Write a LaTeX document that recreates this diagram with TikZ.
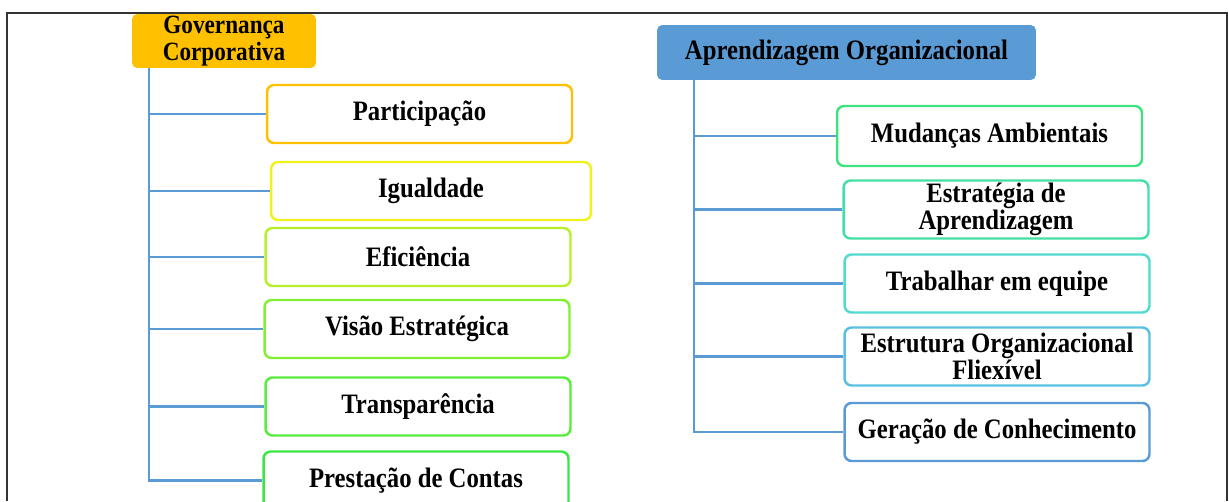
\documentclass[tikz,border=0pt]{standalone}
\usepackage{fontspec}
\setmainfont{Liberation Serif}[FakeStretch=0.88]
\usetikzlibrary{positioning}

\definecolor{gcorange}{RGB}{255,192,0}
\definecolor{aoblue}{RGB}{91,155,213}
\definecolor{cIgual}{RGB}{240,242,30}
\definecolor{cEfic}{RGB}{184,240,40}
\definecolor{cVisao}{RGB}{130,240,50}
\definecolor{cTransp}{RGB}{88,236,60}
\definecolor{cPrest}{RGB}{60,230,70}
\definecolor{cMud}{RGB}{64,226,128}
\definecolor{cEstr}{RGB}{66,224,164}
\definecolor{cTrab}{RGB}{82,218,208}
\definecolor{cEstrut}{RGB}{90,192,224}

\begin{document}
\begin{tikzpicture}
[x=0.02cm, y=-0.02cm, line width=1.4pt,
head/.style={rectangle, rounded corners=3pt, inner sep=0pt, align=center},
item/.style={rectangle, draw, rounded corners=4pt, fill=white, inner sep=0pt,
  minimum width=6.1cm, minimum height=1.16cm, align=center,
  font=\bfseries\fontsize{16}{15}\selectfont},
link/.style={draw=aoblue, line width=1.6pt}]

\useasboundingbox (0,0) rectangle (1229,501);

% moldura
\draw[black!80, line width=1pt] (7,501) -- (7,13) -- (1227,13) -- (1227,501);

% Governanca Corporativa
\node[head, fill=gcorange, minimum width=3.68cm, minimum height=1.08cm,
  font=\bfseries\fontsize{15}{15.5}\selectfont] (gov) at (224,41) {Governança\\Corporativa};

\node[item, draw=gcorange] (part) at (419.5,114) {Participação};
\node[item, draw=cIgual, minimum width=6.4cm] (igual) at (431,191) {Igualdade};
\node[item, draw=cEfic] (efic) at (418,257) {Eficiência};
\node[item, draw=cVisao] (visao) at (417,329) {Visão Estratégica};
\node[item, draw=cTransp] (transp) at (418,406.5) {Transparência};
\node[item, draw=cPrest] (prest) at (416,480.5) {Prestação de Contas};

\coordinate (gtop) at (149,68);
\foreach \n in {part,igual,efic,visao,transp,prest}
  \draw[link] (gtop) |- (\n.west);

% Aprendizagem Organizacional
\node[head, fill=aoblue, minimum width=7.58cm, minimum height=1.1cm,
  font=\bfseries\fontsize{16}{15}\selectfont] (org) at (846.5,52.5) {Aprendizagem Organizacional};

\node[item, draw=cMud, minimum height=1.2cm] (mud) at (989.5,136) {Mudanças Ambientais};
\node[item, draw=cEstr] (estr) at (996,209.5) {Estratégia de\\Aprendizagem};
\node[item, draw=cTrab] (trab) at (997,283.5) {Trabalhar em equipe};
\node[item, draw=cEstrut] (estrut) at (997,356.5) {Estrutura Organizacional\\Fliexível};
\node[item, draw=aoblue] (ger) at (997,432) {Geração de Conhecimento};

\coordinate (otop) at (694,80);
\foreach \n in {mud,estr,trab,estrut,ger}
  \draw[link] (otop) |- (\n.west);
\end{tikzpicture}
\end{document}
